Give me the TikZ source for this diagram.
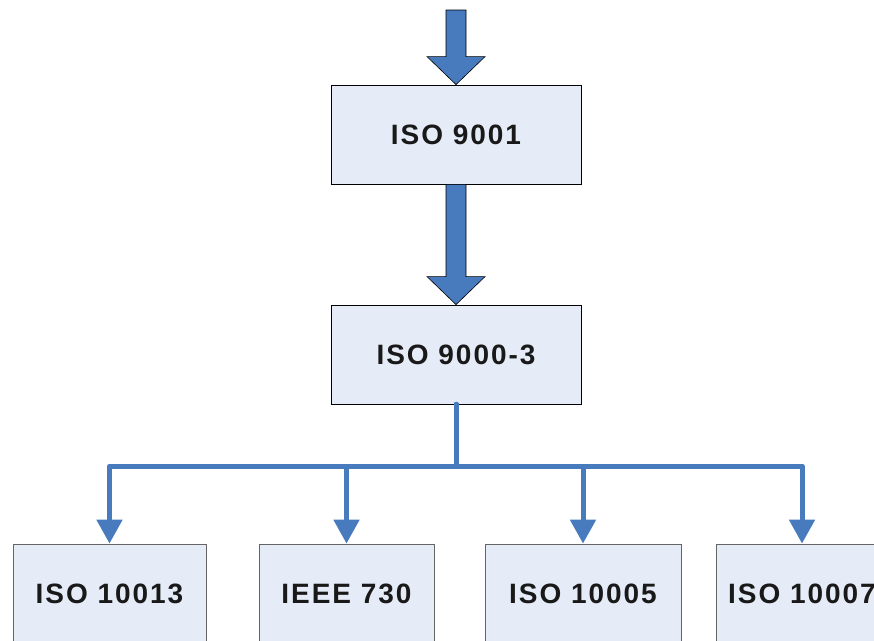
\documentclass[tikz,border=0pt]{standalone}
\usepackage{fontspec}
\setmainfont{Liberation Sans}
\newfontfamily\lblfont[LetterSpace=7]{Liberation Sans}
\usetikzlibrary{arrows.meta,calc}
\definecolor{flowblue}{RGB}{72,122,190}
\definecolor{boxfill}{RGB}{230,236,247}
\definecolor{boxedge}{RGB}{100,100,100}
\tikzset{
  stdbox/.style={draw=black, line width=0.8pt, fill=boxfill, rectangle,
    inner sep=0pt, minimum height=99pt,
    font=\lblfont\fontsize{28}{32}\selectfont\bfseries, text=black!90},
  leafbox/.style={stdbox, draw=boxedge},
  bigarrow/.style={fill=flowblue, draw=black, line width=0.6pt, line join=miter},
  conn/.style={draw=flowblue, line width=5pt, line join=round, line cap=round,
    -{Triangle[width=25pt,length=24pt]}},
}
\begin{document}
\begin{tikzpicture}[x=1pt, y=-1pt]
\useasboundingbox (0,0) rectangle (874,640);
\begin{scope}
\clip (0,0) rectangle (874,640);

% main chain
\node[stdbox, minimum width=250pt] (s9001) at (456,134.5) {ISO 9001};
\node[stdbox, minimum width=250pt] (s9003) at (456,354.5) {ISO 9000-3};

% guidance documents
\node[leafbox, minimum width=193pt] (s10013) at (109.5,593.5) {ISO 10013};
\node[leafbox, minimum width=175pt] (ieee730) at (346.5,593.5) {IEEE 730};
\node[leafbox, minimum width=196pt] (s10005) at (583,593.5) {ISO 10005};
\node[leafbox, minimum width=172pt] (s10007) at (802,593.5) {ISO 10007};

% incoming block arrow
\coordinate (feed) at (456,10);
\draw[bigarrow] ($(feed)+(-10,0)$) -- ($(s9001.north)+(-10,-28)$)
  -- ($(s9001.north)+(-29,-28)$) -- (s9001.north)
  -- ($(s9001.north)+(29,-28)$) -- ($(s9001.north)+(10,-28)$)
  -- ($(feed)+(10,0)$) -- cycle;

% block arrow between the two main boxes
\draw[bigarrow] ($(s9001.south)+(-10,0)$) -- ($(s9003.north)+(-10,-28)$)
  -- ($(s9003.north)+(-29,-28)$) -- (s9003.north)
  -- ($(s9003.north)+(29,-28)$) -- ($(s9003.north)+(10,-28)$)
  -- ($(s9001.south)+(10,0)$) -- cycle;

% distribution bus
\coordinate (bus) at (0,466);
\foreach \leaf in {s10013,ieee730,s10005,s10007}
  \draw[conn] (s9003.south) -- (s9003.south |- bus) -| (\leaf.north);
\end{scope}
\end{tikzpicture}
\end{document}
